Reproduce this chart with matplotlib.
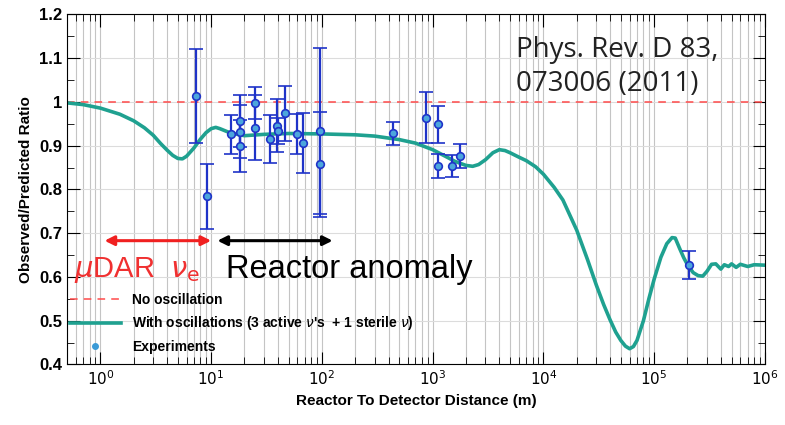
import numpy as np
import matplotlib.pyplot as plt
from matplotlib.ticker import LogLocator, MultipleLocator, NullFormatter

plt.rcParams['font.family'] = ['Liberation Sans', 'DejaVu Sans']

# oscillation curve (distance in m, ratio)
curve_x = [0.5, 0.7, 1, 1.5, 2, 2.5, 3, 3.5, 4, 4.5, 5, 5.5, 6, 7, 8, 9, 10, 11, 12, 15,
           20, 30, 50, 100, 200, 300, 500, 700, 1000, 1300, 1600, 2000, 2300, 2600, 3000,
           3500, 4000, 4500, 5000, 6000, 7000, 8500, 10000, 12500, 15000, 20000, 25000,
           30000, 35000, 40000, 45000, 50000, 55000, 60000, 65000, 70000, 80000, 90000,
           100000, 115000, 130000, 145000, 155000, 170000, 185000, 200000, 225000, 250000,
           275000, 300000, 330000, 360000, 400000, 430000, 470000, 500000, 550000, 600000,
           700000, 800000, 1000000]
curve_y = [0.998, 0.994, 0.986, 0.972, 0.957, 0.941, 0.924, 0.905, 0.890, 0.878, 0.871,
           0.870, 0.876, 0.895, 0.915, 0.930, 0.939, 0.942, 0.939, 0.929,
           0.923, 0.926, 0.928, 0.927, 0.925, 0.922, 0.914, 0.906, 0.891, 0.876, 0.864,
           0.855, 0.853, 0.857, 0.868, 0.884, 0.891, 0.889, 0.884, 0.874, 0.866, 0.852,
           0.835, 0.805, 0.776, 0.707, 0.640, 0.582, 0.537, 0.502, 0.474, 0.455, 0.442,
           0.436, 0.441, 0.455, 0.500, 0.552, 0.595, 0.645, 0.676, 0.690, 0.689, 0.665,
           0.644, 0.628, 0.610, 0.603, 0.602, 0.613, 0.629, 0.630, 0.618, 0.628, 0.624,
           0.630, 0.622, 0.629, 0.624, 0.628, 0.627]

# experiments
exp_x = [7.3, 9.2, 15, 18.3, 18.3, 18.3, 25, 25, 34, 39.5, 40, 46.6, 60, 68, 96.5, 96.5,
         437, 875, 1120, 1120, 1490, 1770, 205000]
exp_y = [1.014, 0.784, 0.926, 0.957, 0.932, 0.899, 0.997, 0.941, 0.915, 0.946, 0.934,
         0.974, 0.927, 0.906, 0.934, 0.858, 0.928, 0.964, 0.949, 0.854, 0.854, 0.877, 0.627]
exp_err = [0.108, 0.074, 0.045, 0.06, 0.06, 0.06, 0.037, 0.074, 0.055, 0.06, 0.03,
           0.063, 0.046, 0.069, 0.19, 0.12, 0.027, 0.058, 0.042, 0.028, 0.025, 0.027, 0.032]

x_ticks = [1, 10, 100, 1e3, 1e4, 1e5, 1e6]
x_labels = ['$10^0$', '$10^1$', '$10^2$', '$10^3$', '$10^4$', '$10^5$', '$10^6$']
y_ticks = [0.4, 0.5, 0.6, 0.7, 0.8, 0.9, 1.0, 1.1, 1.2]
y_labels = ['0.4', '0.5', '0.6', '0.7', '0.8', '0.9', '1', '1.1', '1.2']

fig = plt.figure(figsize=(7.85, 4.25), dpi=100)
ax = fig.add_axes([0.0854, 0.1424, 0.889, 0.8235])

ax.set_xscale('log')
ax.set_xlim(0.5, 1e6)
ax.set_ylim(0.4, 1.2)

ax.set_xticks(x_ticks)
ax.set_xticklabels(x_labels)
ax.xaxis.set_minor_locator(LogLocator(base=10, subs=np.arange(2, 10), numticks=12))
ax.xaxis.set_minor_formatter(NullFormatter())
ax.set_yticks(y_ticks)
ax.set_yticklabels(y_labels)
ax.yaxis.set_minor_locator(MultipleLocator(0.05))

ax.grid(True, which='both', axis='x', color='#c4c4c4', lw=0.8)
ax.grid(True, which='major', axis='y', color='#dcdcdc', lw=0.8)
ax.set_axisbelow(True)

ax.tick_params(which='both', direction='in', top=True, right=True)
ax.tick_params(axis='x', labelsize=11)
ax.tick_params(axis='y', labelsize=12)
ax.tick_params(which='major', length=9)
ax.tick_params(which='minor', length=5)
for lbl in ax.get_xticklabels() + ax.get_yticklabels():
    lbl.set_fontweight('bold')

ax.axhline(1.0, color='#ff4a4a', ls=(0, (5, 4)), lw=1.1, label='No oscillation')
ax.plot(curve_x, curve_y, color='#1fa190', lw=2.6,
        label="With oscillations (3 active $\\nu$'s  + 1 sterile $\\nu$)")
ax.errorbar(exp_x, exp_y, yerr=exp_err, fmt='o', color='#1f33c8', ms=5.5,
            mfc='#4ca6dc', mec='#1f33c8', mew=1.2, elinewidth=1.6, capsize=5,
            capthick=1.6, zorder=5)
ax.plot([], [], 'o', color='#3a9ad6', ms=4, label='Experiments')

handles, labels = ax.get_legend_handles_labels()
ax.legend(handles, labels, loc='lower left', bbox_to_anchor=(-0.005, 0.012), frameon=False,
          prop={'weight': 'bold', 'size': 10}, handlelength=3.7, labelspacing=0.55,
          borderaxespad=0.1, borderpad=0.35)

# annotations
ax.annotate('', xy=(1.09, 0.683), xytext=(10, 0.683),
            arrowprops=dict(arrowstyle='<|-|>', color='#f02020', lw=2.2,
                            mutation_scale=14, shrinkA=0, shrinkB=0))
ax.annotate('', xy=(11.4, 0.683), xytext=(125, 0.683),
            arrowprops=dict(arrowstyle='<|-|>', color='black', lw=2.2,
                            mutation_scale=14, shrinkA=0, shrinkB=0))
ax.text(0.58, 0.616, '$\\mu$DAR  $\\nu_{\\mathrm{e}}$', color='#f03030', fontsize=21,
        va='center')
ax.text(13.5, 0.616, 'Reactor anomaly', color='black', fontsize=23.5, va='center')
ax.text(5600, 1.08, 'Phys. Rev. D 83,\n073006 (2011)', fontsize=20, va='center',
        linespacing=1.3, color='#222222', family=['Open Sans', 'DejaVu Sans'])

ax.set_xlabel('Reactor To Detector Distance (m)', fontweight='bold', fontsize=11)
ax.set_ylabel('Observed/Predicted Ratio', fontweight='bold', fontsize=11)

fig.savefig('out.png', dpi=100)
